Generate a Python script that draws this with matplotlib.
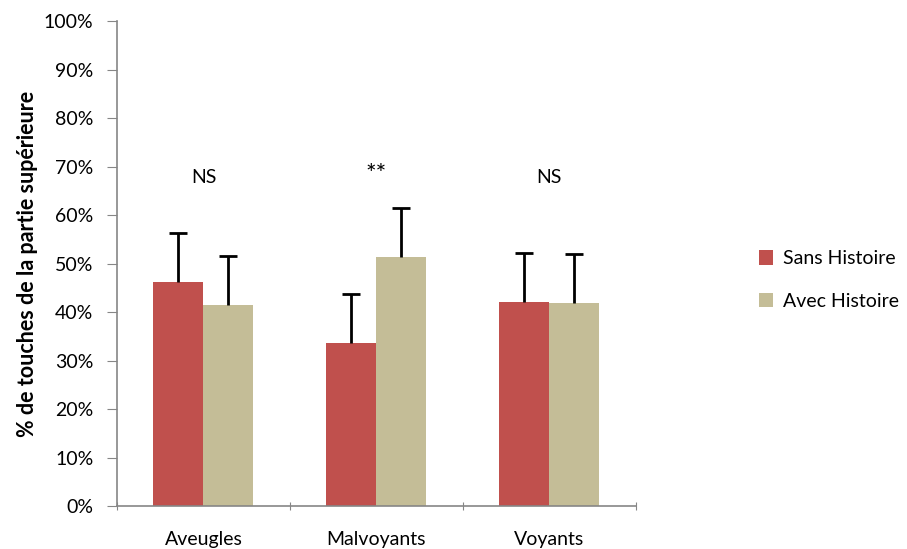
import matplotlib.pyplot as plt
import numpy as np
from matplotlib.ticker import PercentFormatter

plt.rcParams['font.family'] = ['Lato', 'DejaVu Sans']

groups = ['Aveugles', 'Malvoyants', 'Voyants']
sans = [0.461, 0.337, 0.421]
avec = [0.415, 0.514, 0.419]
sans_err = [0.101, 0.101, 0.101]
avec_err = [0.101, 0.101, 0.101]
signif = ['NS', '**', 'NS']
signif_y = [0.66, 0.66, 0.66]

fig = plt.figure(figsize=(9.07, 5.49), dpi=100)
ax = fig.add_axes([0.129, 0.0783, 0.572, 0.8834])

x = np.arange(len(groups))
w = 0.289
red = '#C0504D'
beige = '#C4BD97'
ax.bar(x - w/2, sans, w, color=red, label='Sans Histoire')
ax.bar(x + w/2, avec, w, color=beige, label='Avec Histoire')

# upper-only error bars (line + cap on top)
for xs, ys, es in [(x - w/2, sans, sans_err), (x + w/2, avec, avec_err)]:
    tops = np.array(ys) + np.array(es)
    ax.vlines(xs, ys, tops, color='black', lw=2)
    ax.plot(xs, tops, ls='none', marker='_', ms=13, mew=2, color='black')

for i, s in enumerate(signif):
    ax.text(x[i], signif_y[i], s, ha='center', va='bottom',
            fontsize=18 if s == '**' else 14)

ax.set_xlim(-0.5, 2.5)
ax.set_ylim(0, 1)
ax.set_yticks(np.arange(0, 1.01, 0.1))
ax.yaxis.set_major_formatter(PercentFormatter(1.0, decimals=0))
ax.set_xticks([-0.5, 0.5, 1.5, 2.5])
ax.set_xticklabels([])
ax.set_xticks(x, minor=True)
ax.set_xticklabels(groups, minor=True)
ax.tick_params(axis='x', which='minor', length=0, pad=18, labelsize=14)
ax.tick_params(axis='x', which='major', length=6, direction='inout', color='#868686')
ax.tick_params(axis='y', length=7, color='#868686', labelsize=14, pad=10)

for side in ['top', 'right']:
    ax.spines[side].set_visible(False)
for side in ['left', 'bottom']:
    ax.spines[side].set_color('#868686')
    ax.spines[side].set_linewidth(1.2)

ax.set_ylabel('% de touches de la partie supérieure', fontsize=15.5, fontweight='bold', labelpad=4)

ax.legend(loc='center left', bbox_to_anchor=(1.222, 0.466), frameon=False, fontsize=14,
          handlelength=0.75, handleheight=0.75, labelspacing=1.3, handletextpad=0.5,
          borderaxespad=0)

fig.savefig('out.png', dpi=100)
